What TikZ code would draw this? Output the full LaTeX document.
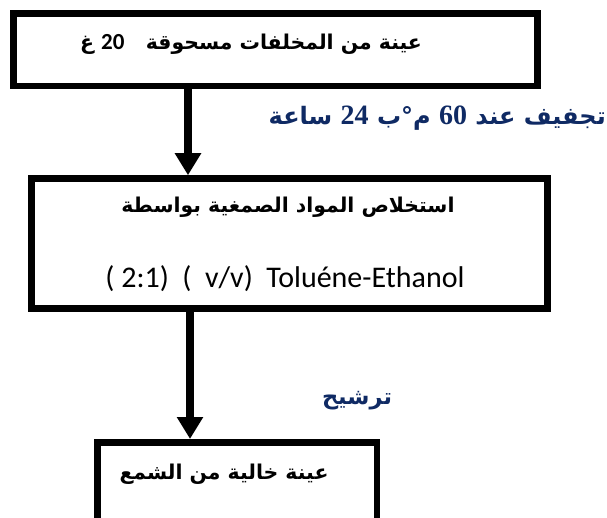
\documentclass[tikz,border=0pt]{standalone}
\usepackage{fontspec}
\usetikzlibrary{arrows.meta}
\TeXXeTstate=1
\newfontfamily\arabicfont[Script=Arabic]{DejaVu Sans}
\newfontfamily\calfont{Carlito}
\newfontfamily\serifnum{Liberation Serif}
\definecolor{labelblue}{HTML}{0F2A64}
\tikzset{
  box/.style={draw=black, line width=6.5pt, fill=none, inner sep=0pt},
  arr/.style={line width=8pt, -{Triangle[length=22pt,width=25pt]}},
  blacktxt/.style={font=\arabicfont\bfseries\fontsize{20.4}{24}\selectfont, inner sep=0pt},
  latintxt/.style={font=\calfont\fontsize{30}{34}\selectfont, inner sep=0pt},
  bluetxt/.style={text=labelblue, font=\arabicfont\bfseries\fontsize{24}{28}\selectfont, inner sep=0pt}
}
\begin{document}
\begin{tikzpicture}[x=1pt,y=-1pt]
\clip (0,0) rectangle (607,518);
\fill[white] (0,0) rectangle (607,518);
% boxes
\node[box, minimum width=524pt, minimum height=72.5pt] (b1) at (275.5,49.75) {};
\node[box, minimum width=516pt, minimum height=130pt] (b2) at (289.5,243.5) {};
\node[box, minimum width=279.5pt, minimum height=117.5pt] (b3) at (237,501) {};
% texts
\node[blacktxt] (t1) at (251,44) {\beginR عينة من المخلفات مسحوقة \ \ \beginL{\calfont\bfseries\fontsize{23}{26}\selectfont 20}\endL{} غ\endR};
\node[blacktxt] (t2) at (288,207) {\beginR استخلاص المواد الصمغية بواسطة\endR};
\node[latintxt] (t3) at (285,279) {(\ 2:1)\ \ (\ \ v/v)\ \ Toluéne-Ethanol};
\node[blacktxt] (t4) at (224,474) {\beginR عينة خالية من الشمع\endR};
% labels
\node[bluetxt, anchor=east] (l1) at (606,118) {\beginR تجفيف عند \beginL{\serifnum\bfseries\fontsize{28}{30}\selectfont 60}\endL{} م°ب \beginL{\serifnum\bfseries\fontsize{28}{30}\selectfont 24}\endL{} ساعة\endR};
\node[bluetxt, font=\arabicfont\bfseries\fontsize{22.5}{26}\selectfont] (l2) at (357,401) {\beginR ترشيح\endR};
% connectors
\coordinate (c1) at (188,0);
\coordinate (c2) at (190,0);
\draw[arr] (b1.south -| c1) -- (b2.north -| c1);
\draw[arr] (b2.south -| c2) -- (b3.north -| c2);
\end{tikzpicture}
\end{document}
